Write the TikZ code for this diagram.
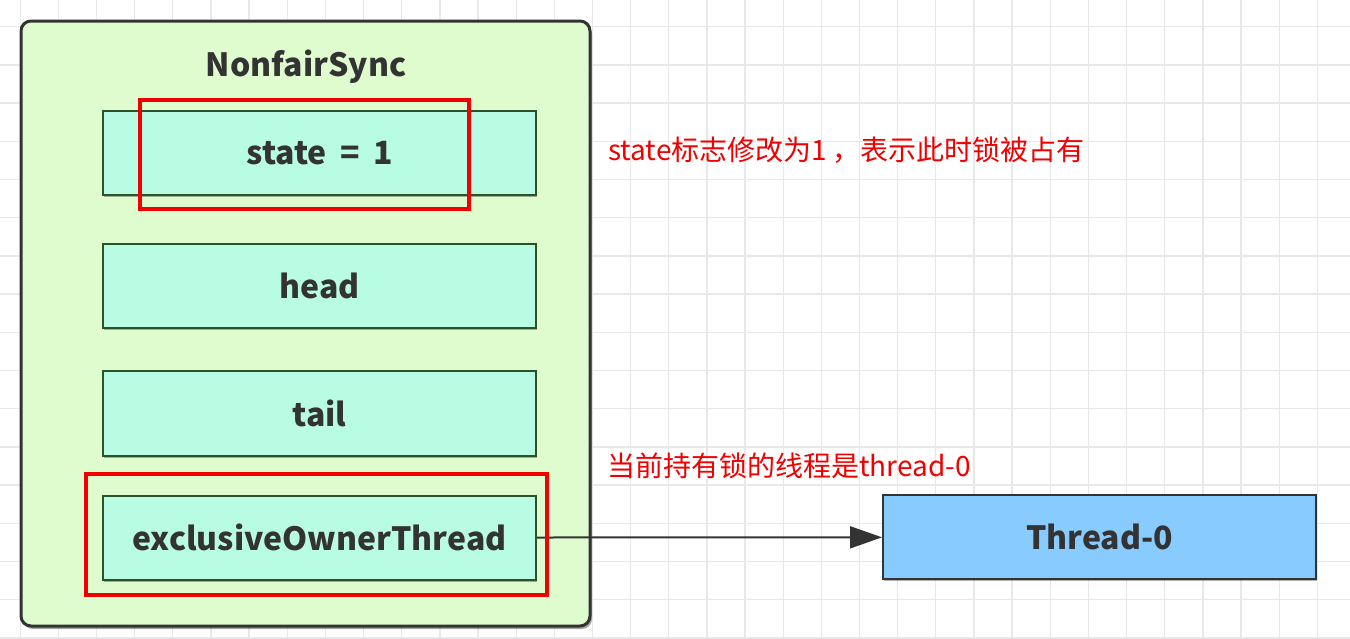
\documentclass[tikz,border=0pt]{standalone}
\usepackage{fontspec}
\usetikzlibrary{arrows.meta,shadows}
\newfontfamily\cjk{Noto Sans CJK SC}
\definecolor{gridc}{RGB}{232,232,232}
\definecolor{outerfill}{RGB}{223,252,207}
\definecolor{innerfill}{RGB}{185,252,228}
\definecolor{threadfill}{RGB}{136,203,255}
\definecolor{darkline}{RGB}{51,51,51}
\definecolor{labeltext}{RGB}{51,51,51}
\definecolor{redmark}{RGB}{240,0,0}
\tikzset{
  outerbox/.style={draw=darkline, line width=3pt, fill=outerfill, rounded corners=10pt,
    inner sep=0pt, minimum width=569pt, minimum height=605pt,
    drop shadow={shadow xshift=2pt, shadow yshift=-3pt, opacity=0.35, fill=black}},
  fieldbox/.style={draw=darkline!85!green, line width=2pt, fill=innerfill, inner sep=0pt,
    minimum width=433pt, minimum height=84pt, text=labeltext,
    font=\cjk\bfseries\fontsize{32}{38}\selectfont,
    drop shadow={shadow xshift=1pt, shadow yshift=-2pt, opacity=0.3, fill=black}},
  threadbox/.style={fieldbox, fill=threadfill, draw=darkline},
  marker/.style={draw=redmark, line width=3.5pt, inner sep=0pt},
  note/.style={text=redmark, anchor=west, inner sep=0pt, font=\cjk\fontsize{28}{32}\selectfont},
  titletext/.style={text=labeltext, inner sep=0pt, font=\cjk\bfseries\fontsize{32}{38}\selectfont},
  link/.style={draw=darkline, line width=2pt, -{Triangle[length=32pt,width=22pt]}},
}
\begin{document}
\begin{tikzpicture}[x=1pt,y=-1pt]
\useasboundingbox (0,0) rectangle (1350,638);
\fill[white] (0,0) rectangle (1350,638);
% grid
\foreach \i in {0,...,35} {
  \draw[gridc, line width=1.3pt] ({20.2+38.15*\i},0) -- ({20.2+38.15*\i},638);
}
\foreach \j in {0,...,16} {
  \draw[gridc, line width=1.3pt] (0,{26.7+38.2*\j}) -- (1350,{26.7+38.2*\j});
}
% outer container
\node[outerbox] (sync) at (305.5,323.5) {};
\node[titletext] (title) at (306,67) {NonfairSync};
% fields
\node[fieldbox] (state) at (319.5,153) {state\hspace{6pt} = \hspace{6pt}1};
\node[fieldbox] (head) at (319.5,286) {head};
\node[fieldbox, minimum height=85pt] (tail) at (319.5,413.5) {tail};
\node[fieldbox] (owner) at (319.5,537.5) {exclusiveOwnerThread};
% thread
\node[threadbox] (thread) at (1099.5,537.3) {Thread-0};
% connector
\draw[link] (owner.east) -- (thread.west);
% red markers
\node[marker, minimum width=329pt, minimum height=109pt] (mark1) at (304.5,154.5) {};
\node[marker, minimum width=461pt, minimum height=121pt] (mark2) at (316.5,534.5) {};
% notes
\node[note] (note1) at (608,150) {state标志修改为1\hspace{5pt}，表示此时锁被占有};
\node[note] (note2) at (607,466) {当前持有锁的线程是thread-0};
\end{tikzpicture}
\end{document}
